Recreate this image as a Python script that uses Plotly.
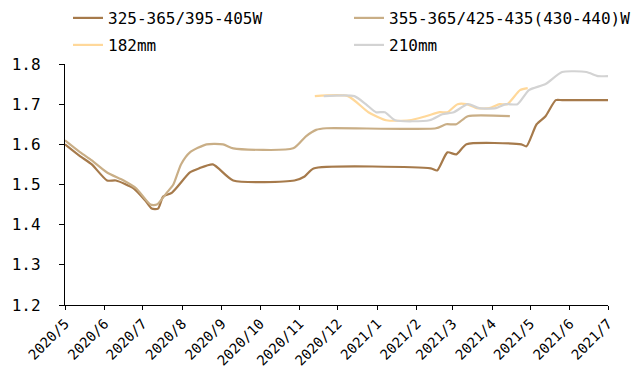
import plotly.graph_objects as go

# Weekly wafer prices (USD/piece)
s1_name = "325-365/395-405W"
s1_dates = ["2020-05-01", "2020-05-13", "2020-05-22", "2020-06-03", "2020-06-10",
            "2020-06-24", "2020-07-03", "2020-07-08", "2020-07-13", "2020-07-17",
            "2020-07-24", "2020-08-07", "2020-08-14", "2020-08-25", "2020-09-10",
            "2020-10-28", "2020-11-05", "2020-11-12", "2021-02-12", "2021-02-17",
            "2021-02-25", "2021-03-04", "2021-03-12", "2021-04-24", "2021-04-28",
            "2021-05-06", "2021-05-13", "2021-05-21", "2021-05-26", "2021-07-01"]
s1_vals = [1.60, 1.57, 1.55, 1.51, 1.51,
           1.49, 1.46, 1.44, 1.44, 1.47,
           1.48, 1.53, 1.54, 1.55, 1.51,
           1.51, 1.52, 1.54, 1.54, 1.535,
           1.58, 1.575, 1.60, 1.60, 1.595,
           1.65, 1.67, 1.71, 1.71, 1.71]

s2_name = "355-365/425-435(430-440)W"
s2_dates = ["2020-05-01", "2020-05-13", "2020-05-22", "2020-06-03", "2020-06-16",
            "2020-06-26", "2020-07-07", "2020-07-12", "2020-07-20", "2020-07-25",
            "2020-07-31", "2020-08-07", "2020-08-20", "2020-09-02", "2020-09-10",
            "2020-10-27", "2020-11-06", "2020-11-14", "2020-11-22", "2021-02-16",
            "2021-02-24", "2021-03-04", "2021-03-13", "2021-04-15"]
s2_vals = [1.61, 1.58, 1.56, 1.53, 1.51,
           1.49, 1.45, 1.45, 1.48, 1.50,
           1.55, 1.58, 1.60, 1.60, 1.59,
           1.59, 1.62, 1.636, 1.64, 1.64,
           1.65, 1.65, 1.67, 1.67]

s3_name = "182mm"
s3_dates = ["2020-11-13", "2020-12-09", "2020-12-25", "2021-01-08", "2021-01-26",
            "2021-02-08", "2021-02-19", "2021-02-25", "2021-03-05", "2021-03-12",
            "2021-03-20", "2021-03-30", "2021-04-07", "2021-04-13", "2021-04-23",
            "2021-04-29"]
s3_vals = [1.72, 1.72, 1.68, 1.66, 1.66,
           1.67, 1.68, 1.68, 1.70, 1.70,
           1.69, 1.69, 1.70, 1.70, 1.735,
           1.74]

s4_name = "210mm"
s4_dates = ["2020-11-20", "2020-12-14", "2020-12-23", "2020-12-31", "2021-01-07",
            "2021-01-15", "2021-02-11", "2021-02-21", "2021-03-02", "2021-03-13",
            "2021-03-22", "2021-04-04", "2021-04-12", "2021-04-21", "2021-04-30",
            "2021-05-13", "2021-05-26", "2021-06-14", "2021-06-23", "2021-07-01"]
s4_vals = [1.72, 1.72, 1.70, 1.68, 1.68,
           1.66, 1.66, 1.675, 1.68, 1.70,
           1.69, 1.69, 1.70, 1.70, 1.735,
           1.75, 1.78, 1.78, 1.77, 1.77]

x_ticks = ["2020-05-01", "2020-06-01", "2020-07-01", "2020-08-01", "2020-09-01",
           "2020-10-01", "2020-11-01", "2020-12-01", "2021-01-01", "2021-02-01",
           "2021-03-01", "2021-04-01", "2021-05-01", "2021-06-01", "2021-07-01"]
x_labels = ["2020/5", "2020/6", "2020/7", "2020/8", "2020/9", "2020/10", "2020/11",
            "2020/12", "2021/1", "2021/2", "2021/3", "2021/4", "2021/5", "2021/6",
            "2021/7"]

FONT = "DejaVu Sans Mono"
W, H = 635, 371

# each legend entry sits in its own slot: (legend id, left px, centre px from top)
series = [
    (s1_name, s1_dates, s1_vals, "#A67A4B", "legend", 68, 18),
    (s2_name, s2_dates, s2_vals, "#C9AE86", "legend2", 349, 18),
    (s3_name, s3_dates, s3_vals, "#FFD89A", "legend3", 68, 45),
    (s4_name, s4_dates, s4_vals, "#D3D3D3", "legend4", 349, 45),
]

fig = go.Figure()
legends = {}
for name, xs, ys, color, lg, lx, ly in series:
    fig.add_trace(go.Scatter(
        x=xs, y=ys, name=name, mode="lines",
        line=dict(color=color, width=2.2, shape="spline", smoothing=0.6),
        legend=lg,
    ))
    legends[lg] = dict(
        orientation="h", xanchor="left", yanchor="middle",
        xref="container", yref="container",
        x=lx / W, y=1 - ly / H,
        font=dict(family=FONT, size=16, color="#000000"),
        bgcolor="rgba(0,0,0,0)", itemwidth=30,
    )

fig.update_layout(
    width=W, height=H,
    margin=dict(l=65, r=27, t=64, b=66, autoexpand=False),
    paper_bgcolor="white", plot_bgcolor="white",
    font=dict(family=FONT, size=15, color="#000000"),
    showlegend=True,
    **legends,
    xaxis=dict(
        type="date", range=["2020-05-01", "2021-07-01"],
        tickvals=x_ticks, ticktext=x_labels, tickangle=-45,
        showgrid=False, zeroline=False,
        showline=True, linecolor="#000000", linewidth=1.3,
        ticks="outside", ticklen=4, tickcolor="#000000",
        tickfont=dict(family=FONT, size=14),
    ),
    yaxis=dict(
        range=[1.2, 1.8], tickvals=[1.2, 1.3, 1.4, 1.5, 1.6, 1.7, 1.8],
        tickformat=".1f",
        showgrid=False, zeroline=False,
        showline=True, linecolor="#000000", linewidth=1.3,
        ticks="outside", ticklen=5, tickcolor="#000000",
        tickfont=dict(family=FONT, size=16),
        ticklabelstandoff=15,
    ),
)

fig.write_html("out.html")
